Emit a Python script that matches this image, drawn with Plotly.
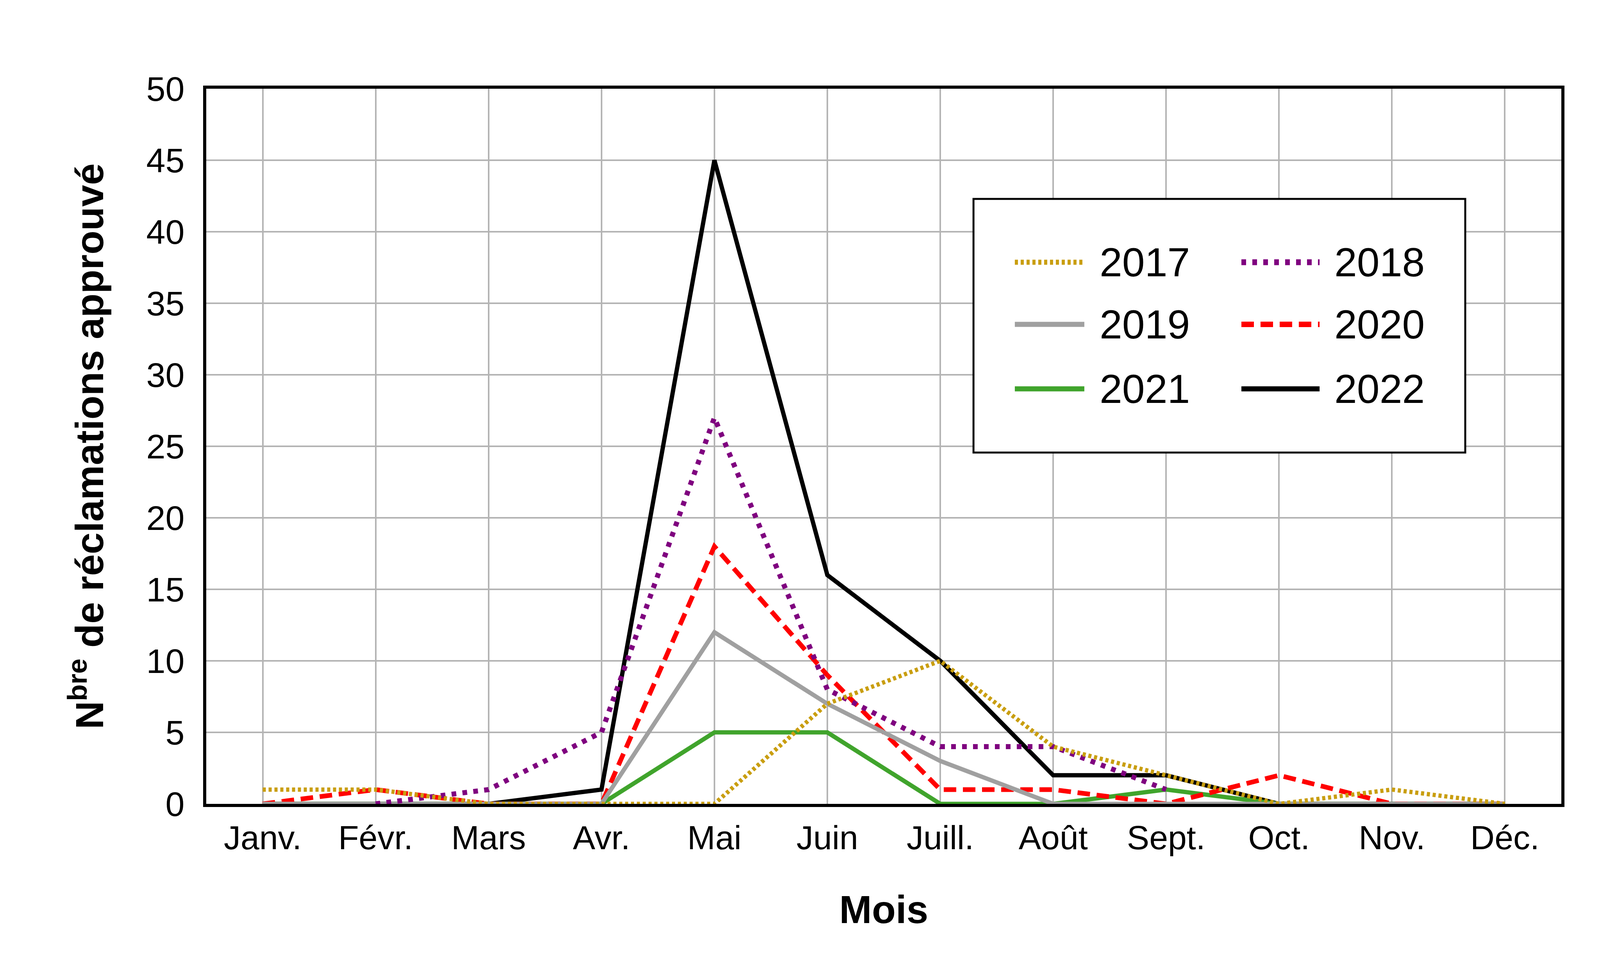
import plotly.graph_objects as go

# months on the x axis
months = ["Janv.", "Févr.", "Mars", "Avr.", "Mai", "Juin",
          "Juill.", "Août", "Sept.", "Oct.", "Nov.", "Déc."]

# number of approved claims per month, one list per year
y2017 = [1, 1, 0, 0, 0, 7, 10, 4, 2, 0, 1, 0]
y2018 = [None, 0, 1, 5, 27, 8, 4, 4, 1, None, None, None]
y2019 = [0, 0, 0, 0, 12, 7, 3, 0, 0, 0, 0, 0]
y2020 = [0, 1, 0, 0, 18, 9, 1, 1, 0, 2, 0, 0]
y2021 = [0, 0, 0, 0, 5, 5, 0, 0, 1, 0, 0, 0]
y2022 = [0, 0, 0, 1, 45, 16, 10, 2, 2, 0, 0, 0]

years = ["2017", "2018", "2019", "2020", "2021", "2022"]
values = [y2017, y2018, y2019, y2020, y2021, y2022]
colors = ["#c99e10", "#7f007f", "#a0a0a0", "#ff0000", "#40a42c", "#000000"]
dashes = ["8px,7px", "12px,16px", "solid", "32px,17px", "solid", "solid"]
widths = [11, 13, 11, 12, 11, 11]

FONT = "Liberation Sans, Arial, sans-serif"

fig = go.Figure()

# draw the last year first so that 2017 ends on top, as in the original
for i in reversed(range(len(years))):
    fig.add_trace(go.Scatter(
        x=months, y=values[i], name=years[i], mode="lines",
        line=dict(color=colors[i], width=widths[i], dash=dashes[i]),
        connectgaps=False, showlegend=False))

# hand made legend: two columns, three rows, inside a framed box
legend_x_line = [(0.5967, 0.6480), (0.7639, 0.8216)]
legend_x_text = [0.6587, 0.8319]
legend_y = [0.7574, 0.6705, 0.5803]

shapes = [dict(type="rect", xref="paper", yref="paper",
               x0=0.5662, x1=0.9291, y0=0.4913, y1=0.8459,
               fillcolor="white", line=dict(color="black", width=5),
               layer="above")]
annotations = []
for i, yr in enumerate(years):
    col = i % 2
    row = i // 2
    shapes.append(dict(type="line", xref="paper", yref="paper",
                       x0=legend_x_line[col][0], x1=legend_x_line[col][1],
                       y0=legend_y[row], y1=legend_y[row],
                       line=dict(color=colors[i], width=widths[i] + 2, dash=dashes[i]),
                       layer="above"))
    annotations.append(dict(text=yr, xref="paper", yref="paper",
                            x=legend_x_text[col], y=legend_y[row],
                            xanchor="left", yanchor="middle", showarrow=False,
                            font=dict(family=FONT, size=104, color="black")))

fig.update_layout(
    width=4200, height=2500,
    margin=dict(l=520, r=211, t=219, b=451),
    paper_bgcolor="white", plot_bgcolor="white",
    font=dict(family=FONT, color="black"),
    shapes=shapes, annotations=annotations,
)

fig.update_xaxes(
    type="category", range=[-0.5, 11.5],
    showgrid=True, gridcolor="#b4b4b4", gridwidth=4,
    showline=True, linecolor="black", linewidth=8, mirror=True,
    ticks="", tickfont=dict(size=86), ticklabelstandoff=5,
    title=dict(text="<b>Mois</b>", font=dict(size=100), standoff=105),
)
fig.update_yaxes(
    range=[0, 50], dtick=5,
    showgrid=True, gridcolor="#b4b4b4", gridwidth=4, zeroline=False,
    showline=True, linecolor="black", linewidth=8, mirror=True,
    ticks="", tickfont=dict(size=88), ticklabelstandoff=30,
    title=dict(text="<b>N<sup>bre</sup> de réclamations approuvé</b>",
               font=dict(size=100), standoff=80),
)

fig.write_html("out.html")
